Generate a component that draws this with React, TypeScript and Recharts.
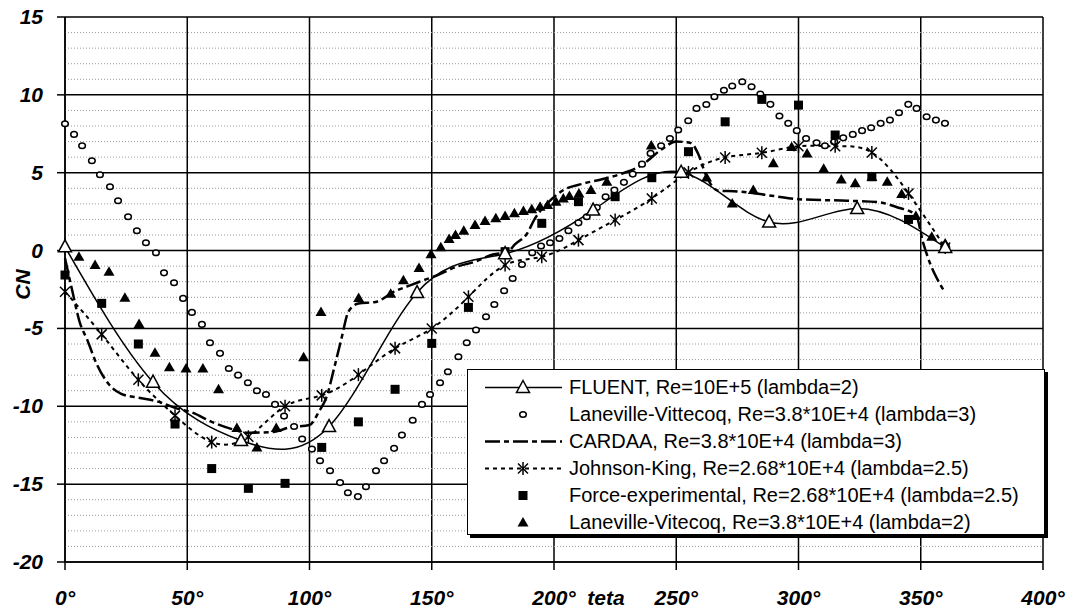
import { ComposedChart, Line, XAxis, YAxis, CartesianGrid, ReferenceLine, Label } from 'recharts'

type Pt = [number, number]

// teta (deg), CN
const FLUENT: Pt[] = [
  [0, 0.24], [36, -8.45], [72, -12.2], [108, -11.3], [144, -2.7], [180, -0.2],
  [216, 2.6], [252, 5.03], [288, 1.83], [324, 2.7], [360, 0.2],
]

const LANEVILLE_L3: Pt[] = [
  [0, 8.14], [3.7, 7.46], [7, 6.73], [11, 5.77], [14.3, 4.87], [18.4, 4.1], [21.7, 3.2],
  [25.8, 2.17], [29.4, 1.27], [33.1, 0.5], [37.2, -0.14], [40.5, -1.43], [44.6, -2.07],
  [48.3, -3.07], [51.9, -3.97], [56, -4.74], [59.3, -5.92], [63.4, -6.6], [67, -7.57],
  [70.8, -8.0], [74.8, -8.49], [78.5, -9.0], [82.2, -9.24], [85.9, -9.88], [89.6, -10.63],
  [93.7, -11.3], [97, -12.1], [101, -12.75], [104.3, -13.5], [108.4, -14.14], [112.5, -14.9],
  [115.7, -15.55], [119.8, -15.8], [123.1, -15.17], [127.2, -14.14], [130.5, -13.5],
  [134.6, -12.7], [137.8, -11.85], [142.2, -10.9], [146, -9.88], [149.3, -9.24],
  [153.4, -8.49], [156.6, -7.78], [160.9, -6.82], [164.3, -5.92], [168.1, -5.1],
  [172.2, -4.25], [175.6, -3.46], [179.6, -2.58], [183.1, -1.79], [186.9, -0.89],
  [191.1, -0.14], [194.7, 0.29], [198.4, 0.5], [202.2, 0.78], [205.9, 1.27], [210, 1.78],
  [213.4, 2.17], [217.5, 2.77], [221.1, 3.45], [224.7, 3.89], [228.6, 4.38], [232.2, 4.91],
  [236, 5.55], [239.5, 6.24], [243.8, 6.73], [247.4, 7.2], [250.8, 7.74], [254.9, 8.34],
  [258.3, 9.13], [262.3, 9.38], [265.6, 9.88], [269.5, 10.3], [272.9, 10.57], [277, 10.84],
  [280.8, 10.52], [284.4, 10.05], [288.5, 9.39], [292.2, 8.64], [295.8, 8.17], [299.3, 7.7],
  [303.1, 7.2], [307.4, 6.92], [310.8, 6.73], [314.6, 6.99], [318.3, 7.24], [322.2, 7.46],
  [326, 7.7], [329.7, 7.89], [333.6, 8.17], [337.4, 8.38], [341.1, 8.85], [344.9, 9.39],
  [348.3, 9.13], [352.4, 8.59], [356.2, 8.38], [359.9, 8.17],
]

const CARDAA: Pt[] = [
  [0, -0.5], [3, -2.6], [6, -4.6], [9, -5.7], [13, -7.3], [18, -8.6], [23, -9.2], [30, -9.45],
  [38, -9.7], [45, -10.1], [52, -10.4], [60, -11.0], [67, -11.4], [75, -11.7], [85, -11.65],
  [92, -11.35], [100, -11.2], [104, -10.3], [107, -9.4], [110, -7.6], [113, -5.7], [116, -3.9],
  [120, -3.4], [127, -3.3], [135, -2.6], [140, -2.3], [145, -2.0], [152, -1.6], [160, -1.05],
  [168, -0.7], [175, -0.25], [181, -0.1], [184, 0.4], [189, 1.1], [192, 2.0], [199, 3.3],
  [204, 3.9], [212, 4.3], [220, 4.6], [228, 4.95], [236, 5.5], [244, 6.5], [250, 7.0],
  [256, 6.9], [259, 6.2], [262, 4.9], [267, 3.85], [275, 3.8], [290, 3.5], [300, 3.3],
  [320, 3.2], [333, 3.1], [340, 2.8], [348, 2.3], [351, 0.5], [354, -0.9], [357, -1.9],
  [360, -2.7],
]

const JOHNSON_KING: Pt[] = [
  [0, -2.64], [15, -5.38], [30, -8.3], [45, -10.6], [60, -12.3], [75, -11.96], [90, -10],
  [105, -9.3], [120, -7.97], [135, -6.28], [150, -5], [165, -2.97], [180, -0.93], [195, -0.4],
  [210, 0.67], [225, 1.96], [240, 3.35], [255, 5.02], [270, 5.98], [285, 6.28], [300, 6.7],
  [315, 6.7], [330, 6.3], [345, 3.67], [360, 0.2],
]

const FORCE_EXP: Pt[] = [
  [0, -1.57], [15, -3.39], [30, -6.0], [45, -11.14], [60, -14.0], [75, -15.27], [90, -14.95],
  [105, -12.64], [120, -11.0], [135, -8.91], [150, -5.96], [165, -3.65], [180, -0.07],
  [195, 1.75], [210, 3.14], [225, 3.46], [240, 4.68], [255, 6.35], [270, 8.27], [285, 9.71],
  [300, 9.34], [315, 7.42], [330, 4.74], [345, 2.0], [360, 0.14],
]

const LANEVILLE_L2: Pt[] = [
  [0, 0.24], [5.7, -0.4], [12.3, -0.93], [18, -1.36], [24.5, -3.03], [30.3, -4.72],
  [36.8, -6.56], [42.7, -7.5], [49.5, -7.57], [56.4, -7.57], [62.8, -8.9], [70.3, -11.4],
  [78.5, -12.65], [86.4, -11.4], [97.6, -6.85], [104.7, -3.95], [120.1, -3.05], [133.2, -2.77],
  [138.4, -1.9], [144.8, -1.12], [149.7, -0.23], [153.7, 0.22], [157.1, 0.74], [159.7, 1.0],
  [163.1, 1.28], [167.7, 1.64], [171.8, 1.9], [176.2, 2.07], [180, 2.22], [183.8, 2.39],
  [187.5, 2.54], [190.9, 2.65], [194.3, 2.81], [197.4, 2.92], [200.8, 3.13], [203.8, 3.35],
  [206.3, 3.5], [210.2, 3.67], [215.1, 3.89], [221.6, 4.42], [239.8, 6.75], [262.4, 4.7],
  [272.9, 3.03], [281.5, 3.89], [289.7, 5.6], [297.2, 6.65], [303.5, 6.24], [310.3, 5.25],
  [317.5, 4.57], [323.2, 4.33], [330, 4.72], [336.3, 4.42], [342.2, 3.63], [348, 2.22],
  [354.5, 0.89], [360, 0.46],
]

const X_TICKS = [0, 50, 100, 150, 200, 250, 300, 350, 400]
const Y_TICKS = [-20, -15, -10, -5, 0, 5, 10, 15]
const MINOR_Y = [
  -19, -18, -17, -16, -14, -13, -12, -11, -9, -8, -7, -6, -4, -3, -2, -1,
  1, 2, 3, 4, 6, 7, 8, 9, 11, 12, 13, 14,
]

const LABELS = {
  fluent: 'FLUENT, Re=10E+5 (lambda=2)',
  lv3: 'Laneville-Vittecoq, Re=3.8*10E+4 (lambda=3)',
  cardaa: 'CARDAA, Re=3.8*10E+4 (lambda=3)',
  jk: 'Johnson-King, Re=2.68*10E+4 (lambda=2.5)',
  force: 'Force-experimental, Re=2.68*10E+4 (lambda=2.5)',
  lv2: 'Laneville-Vitecoq, Re=3.8*10E+4 (lambda=2)',
}

const FONT = '"Liberation Sans", Arial, sans-serif'
const toRows = (pts: Pt[]) => pts.map(([teta, cn]) => ({ teta, cn }))

type Kind = 'openTri' | 'circle' | 'star' | 'square' | 'tri' | 'none'

function Marker({ kind, cx, cy }: { kind: Kind; cx: number; cy: number }) {
  if (kind === 'openTri')
    return <polygon points={`${cx},${cy - 7} ${cx + 6.5},${cy + 5} ${cx - 6.5},${cy + 5}`} fill="#fff" stroke="#000" strokeWidth={1.5} />
  if (kind === 'circle')
    return <ellipse cx={cx} cy={cy} rx={3.3} ry={2.8} fill="#fff" stroke="#000" strokeWidth={1.5} />
  if (kind === 'star')
    return (
      <g stroke="#000" strokeWidth={1.5}>
        <line x1={cx - 5} y1={cy - 5} x2={cx + 5} y2={cy + 5} />
        <line x1={cx - 5} y1={cy + 5} x2={cx + 5} y2={cy - 5} />
        <line x1={cx} y1={cy - 6.5} x2={cx} y2={cy + 6.5} />
      </g>
    )
  if (kind === 'square') return <rect x={cx - 4.5} y={cy - 4.5} width={9} height={9} fill="#000" />
  if (kind === 'tri')
    return <polygon points={`${cx},${cy - 5.5} ${cx + 5.5},${cy + 4} ${cx - 5.5},${cy + 4}`} fill="#000" />
  return null
}

const dotOf = (kind: Kind) => (p: any) => (
  <g key={`${kind}-${p.index}`}>
    <Marker kind={kind} cx={p.cx} cy={p.cy} />
  </g>
)

const axisText: React.CSSProperties = {
  fontSize: '21px', fontWeight: 700, fontStyle: 'italic', fontFamily: FONT, fill: '#000',
}

const XTick = (p: any) => (
  <text x={p.x} y={p.y + 15} textAnchor="middle" style={axisText}>
    {`${p.payload.value}°`}
  </text>
)

const YTick = (p: any) => (
  <text x={p.x} y={p.y + 7} textAnchor="end" style={axisText}>
    {p.payload.value}
  </text>
)

const CnLabel = (props: any) => {
  const { y, height } = props.viewBox
  const cx = 30
  const cy = y + height / 2 - 5
  return (
    <text x={cx} y={cy} transform={`rotate(-90 ${cx} ${cy})`} textAnchor="middle" style={axisText}>
      CN
    </text>
  )
}

const TetaLabel = (props: any) => {
  const { x, y } = props.viewBox
  return (
    <text x={x + 541} y={y + 43} textAnchor="middle" style={axisText}>
      teta
    </text>
  )
}

const LEGEND: { label: string; kind: Kind; dash?: string; line: boolean; width?: number }[] = [
  { label: LABELS.fluent, kind: 'openTri', line: true, width: 1.5 },
  { label: LABELS.lv3, kind: 'circle', line: false },
  { label: LABELS.cardaa, kind: 'none', line: true, dash: '15 4 5 4', width: 2.5 },
  { label: LABELS.jk, kind: 'star', line: true, dash: '4 4', width: 2 },
  { label: LABELS.force, kind: 'square', line: false },
  { label: LABELS.lv2, kind: 'tri', line: false },
]

export default function App() {
  return (
    <div style={{ position: 'absolute', left: 0, top: 0, width: 1070, height: 610, background: '#fff' }}>
      <ComposedChart width={1070} height={610} margin={{ top: 17, right: 27, left: 0, bottom: 0 }}>
        <CartesianGrid stroke="#000" strokeWidth={1.5} />
        {MINOR_Y.map((v) => (
          <ReferenceLine key={v} y={v} stroke="#9a9a9a" strokeDasharray="1 2" strokeWidth={1} />
        ))}
        <XAxis
          type="number"
          dataKey="teta"
          domain={[0, 400]}
          ticks={X_TICKS}
          tick={XTick}
          tickSize={8}
          tickMargin={20}
          height={48}
          axisLine={{ stroke: '#000', strokeWidth: 1.5 }}
          tickLine={{ stroke: '#000', strokeWidth: 1.5 }}
          interval={0}
        >
          <Label content={TetaLabel} />
        </XAxis>
        <YAxis
          type="number"
          dataKey="cn"
          domain={[-20, 15]}
          ticks={Y_TICKS}
          tick={YTick}
          tickSize={8}
          tickMargin={14}
          width={65}
          axisLine={{ stroke: '#000', strokeWidth: 1.5 }}
          tickLine={{ stroke: '#000', strokeWidth: 1.5 }}
          interval={0}
        >
          <Label content={CnLabel} />
        </YAxis>

        <Line data={toRows(LANEVILLE_L3)} dataKey="cn" stroke="none" dot={dotOf('circle')} activeDot={false} isAnimationActive={false} />
        <Line data={toRows(FORCE_EXP)} dataKey="cn" stroke="none" dot={dotOf('square')} activeDot={false} isAnimationActive={false} />
        <Line data={toRows(LANEVILLE_L2)} dataKey="cn" stroke="none" dot={dotOf('tri')} activeDot={false} isAnimationActive={false} />
        <Line data={toRows(CARDAA)} dataKey="cn" type="monotone" stroke="#000" strokeWidth={2.5} strokeDasharray="15 4 5 4" dot={false} activeDot={false} isAnimationActive={false} />
        <Line data={toRows(JOHNSON_KING)} dataKey="cn" type="natural" stroke="#000" strokeWidth={2} strokeDasharray="4 4" dot={dotOf('star')} activeDot={false} isAnimationActive={false} />
        <Line data={toRows(FLUENT)} dataKey="cn" type="natural" stroke="#000" strokeWidth={1.5} dot={dotOf('openTri')} activeDot={false} isAnimationActive={false} />
      </ComposedChart>

      <div
        style={{
          position: 'absolute', left: 467, top: 369, width: 576, height: 164,
          border: '1.5px solid #000', boxShadow: '3px 3px 0 #000', background: '#fff',
        }}
      >
        {LEGEND.map((item, i) => (
          <div key={item.label} style={{ position: 'absolute', left: 16, top: 4 + i * 27, height: 27, display: 'flex', alignItems: 'center', whiteSpace: 'nowrap' }}>
            <svg width={80} height={27}>
              {item.line && (
                <line x1={1} y1={13.5} x2={78} y2={13.5} stroke="#000" strokeWidth={item.width} strokeDasharray={item.dash} />
              )}
              <Marker kind={item.kind} cx={39} cy={13.5} />
            </svg>
            <span style={{ marginLeft: 5, fontSize: 20, fontFamily: FONT, color: '#000' }}>{item.label}</span>
          </div>
        ))}
      </div>
    </div>
  )
}
